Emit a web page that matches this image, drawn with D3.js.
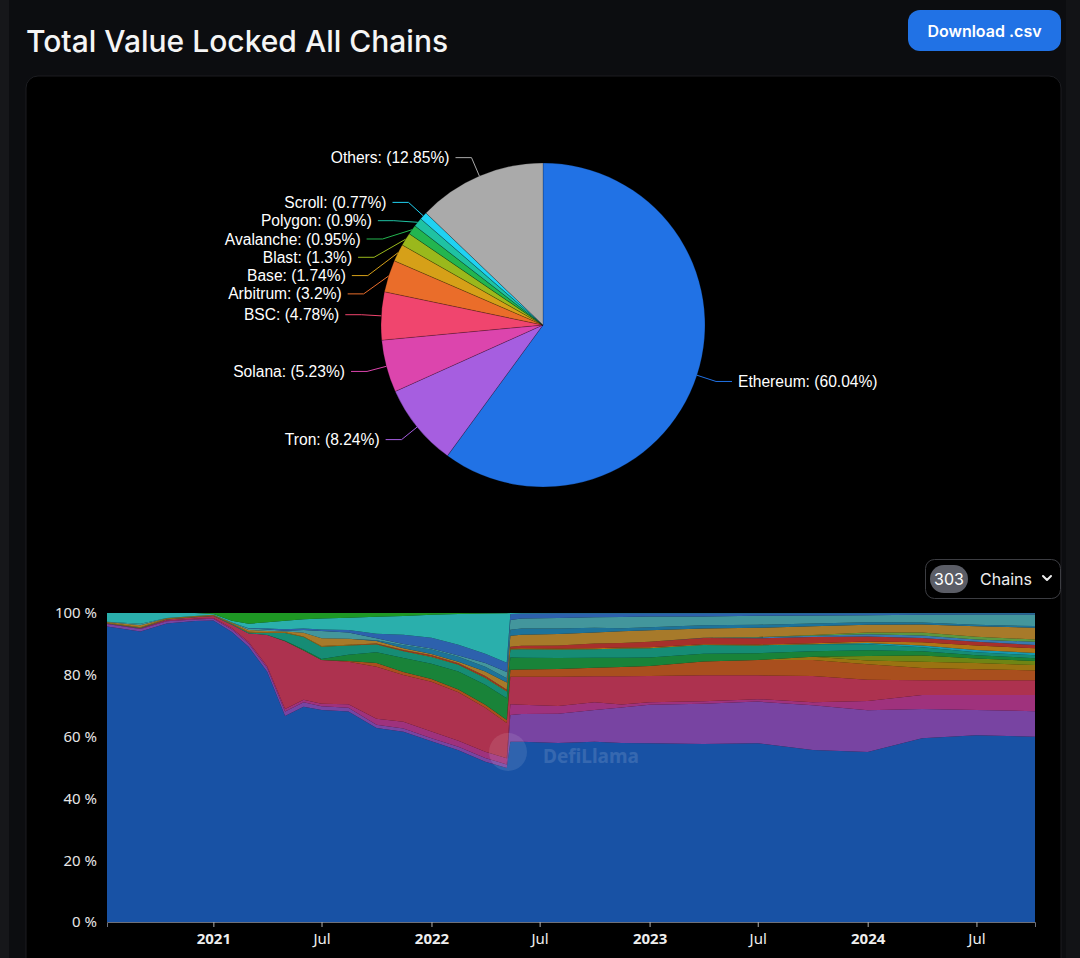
<!DOCTYPE html>
<html>
<head>
<meta charset="utf-8">
<script src="https://cdn.jsdelivr.net/npm/d3@7"></script>
<style>
  body { margin: 0; background: #0c0d10; }
  svg { display: block; }
  text { font-family: "Noto Sans", sans-serif; }
</style>
</head>
<body>
<svg id="page" width="1080" height="958"></svg>
<script>
// ---- pie: share of TVL per chain (%)
var pieNames = ['Ethereum', 'Tron', 'Solana', 'BSC', 'Arbitrum', 'Base', 'Blast', 'Avalanche', 'Polygon', 'Scroll', 'Others'];
var pieShares = [60.04, 8.24, 5.23, 4.78, 3.2, 1.74, 1.3, 0.95, 0.9, 0.77, 12.85];

// ---- stacked area: dominance per chain (%)
var dates = ['2020-07-07','2020-09-01','2020-10-15','2020-12-01','2021-01-01','2021-02-01','2021-03-01','2021-04-01',
             '2021-05-01','2021-06-01','2021-07-01','2021-08-15','2021-10-01','2021-11-15','2022-01-01','2022-02-15',
             '2022-04-01','2022-05-07','2022-05-13','2022-06-01','2022-08-01','2022-10-01','2022-11-15','2023-01-01',
             '2023-04-01','2023-07-01','2023-10-01','2024-01-01','2024-04-01','2024-07-01','2024-10-07'];

var ethereum  = [95.6, 94.0, 96.9, 97.5, 98.0, 94.5, 89.1, 81.0, 67.0, 69.7, 68.6, 68.1, 62.8, 61.6, 58.9, 55.7, 51.9, 49.8, 58.3, 58.3, 57.9, 58.3, 57.9, 57.9, 57.7, 57.9, 55.7, 55.1, 59.5, 60.5, 60.04];
var tron      = [0.8, 0.8, 0.7, 0.5, 0.5, 0.8, 1.0, 1.2, 1.5, 1.4, 1.2, 1.2, 1.0, 1.0, 1.0, 1.1, 1.2, 1.2, 8.7, 9.0, 9.5, 10.3, 11.5, 12.5, 13.0, 13.5, 14.5, 13.5, 9.5, 8.2, 8.24];
var solana    = [0.2, 0.2, 0.3, 0.2, 0.3, 0.4, 0.5, 0.6, 0.8, 0.8, 0.8, 1.2, 2.0, 2.2, 2.2, 2.0, 2.0, 2.0, 3.5, 3.0, 2.5, 2.5, 1.0, 0.8, 0.8, 0.8, 1.0, 3.0, 4.5, 4.8, 5.23];
var bsc       = [0, 0.1, 0.3, 0.5, 0.6, 1.2, 2.8, 10.1, 22.0, 16.0, 14.2, 13.7, 16.8, 15.1, 16.2, 15.7, 14.2, 11.4, 8.9, 9.1, 9.5, 8.4, 9.1, 8.5, 8.4, 7.7, 8.5, 6.9, 4.8, 4.8, 4.78];
var arbitrum  = [0, 0, 0, 0, 0, 0, 0, 0, 0, 0, 0, 0.3, 1.2, 1.0, 0.9, 0.9, 1.0, 1.0, 2.2, 2.3, 2.5, 2.8, 3.0, 3.2, 4.5, 5.0, 5.2, 5.0, 4.0, 3.6, 3.2];
var base      = [0, 0, 0, 0, 0, 0, 0, 0, 0, 0, 0, 0, 0, 0, 0, 0, 0, 0, 0, 0, 0, 0, 0, 0, 0, 0, 1.0, 1.2, 2.0, 2.0, 1.74];
var blast     = [0, 0, 0, 0, 0, 0, 0, 0, 0, 0, 0, 0, 0, 0, 0, 0, 0, 0, 0, 0, 0, 0, 0, 0, 0, 0, 0, 1.5, 2.0, 1.5, 1.3];
var avalanche = [0, 0, 0, 0, 0, 0, 0, 0, 0.2, 0.3, 0.3, 2.0, 3.5, 4.5, 5.0, 5.8, 6.5, 7.0, 4.0, 3.8, 3.5, 3.2, 3.0, 2.8, 2.5, 2.2, 1.8, 1.8, 1.4, 1.0, 0.95];
var polygon   = [0.1, 0.1, 0.1, 0.1, 0.1, 0.2, 0.3, 0.6, 2.5, 4.0, 4.0, 3.0, 2.5, 2.2, 2.2, 2.2, 2.2, 2.2, 2.6, 2.8, 2.8, 2.8, 3.0, 3.0, 2.8, 2.5, 2.2, 2.0, 1.3, 1.0, 0.9];
var scroll    = [0, 0, 0, 0, 0, 0, 0, 0, 0, 0, 0, 0, 0, 0, 0, 0, 0, 0, 0, 0, 0, 0, 0, 0, 0, 0, 0.1, 0.4, 0.6, 0.7, 0.77];
var bitcoin   = [0.2, 0.2, 0.2, 0.2, 0.2, 0.2, 0.2, 0.2, 0.2, 0.2, 0.2, 0.2, 0.2, 0.2, 0.2, 0.2, 0.2, 0.2, 0.3, 0.3, 0.3, 0.3, 0.3, 0.3, 0.3, 0.3, 0.3, 0.5, 1.0, 1.5, 1.5];
var optimism  = [0, 0, 0, 0, 0, 0, 0, 0, 0, 0, 0, 0, 0.1, 0.2, 0.3, 0.3, 0.4, 0.4, 0.6, 0.8, 1.0, 1.5, 1.5, 1.8, 2.0, 2.0, 2.0, 1.6, 1.4, 1.2, 1.1];
var sui       = [0, 0, 0, 0, 0, 0, 0, 0, 0, 0, 0, 0, 0, 0, 0, 0, 0, 0, 0, 0, 0, 0, 0, 0, 0.1, 0.3, 0.4, 0.7, 0.8, 0.7, 1.0];
var mantle    = [0, 0, 0, 0, 0, 0, 0, 0, 0, 0, 0, 0, 0, 0, 0, 0, 0, 0, 0, 0, 0, 0, 0, 0, 0, 0.1, 0.3, 0.6, 1.0, 0.9, 0.8];
var smallA    = [0.2, 0.6, 0.1, 0.1, 0.1, 0.2, 0.6, 0.5, 0.3, 1.2, 2.5, 2.0, 0.8, 0.6, 0.4, 0.5, 1.5, 2.3, 3.5, 3.6, 3.7, 3.6, 3.8, 3.7, 3.0, 3.0, 2.8, 2.5, 2.6, 3.4, 3.8];
var cronos    = [0, 0, 0, 0, 0, 0, 0, 0, 0, 0, 0, 0, 0.3, 1.0, 1.5, 1.6, 1.5, 1.4, 2.0, 2.0, 1.8, 1.5, 1.0, 1.0, 1.0, 1.0, 0.9, 0.8, 0.6, 0.5, 0.5];
var smallB    = [0.1, 0.5, 0.1, 0, 0, 0.1, 0.5, 0.5, 0.2, 0.9, 2.4, 2.0, 0.6, 0.4, 0.3, 0.4, 1.2, 2.0, 3.1, 3.2, 3.4, 3.4, 3.6, 3.5, 2.9, 2.9, 2.6, 2.3, 2.5, 3.3, 3.75];
var fantom    = [0, 0, 0, 0, 0, 0, 0.1, 0.3, 0.5, 0.5, 0.5, 0.8, 1.5, 3.0, 3.5, 3.5, 3.0, 3.0, 2.0, 1.6, 1.5, 1.3, 1.2, 1.0, 1.0, 0.8, 0.7, 0.6, 0.5, 0.4, 0.4];
var terra     = [2.8, 3.5, 1.6, 1.0, 0.3, 0.6, 1.4, 2.0, 2.8, 3.0, 3.5, 4.0, 5.5, 6.0, 7.5, 10.0, 13.0, 16.0, 0.3, 0.2, 0.1, 0.1, 0.1, 0.1, 0.1, 0.1, 0.1, 0.1, 0.1, 0.1, 0.1];
var heco      = [0, 0, 0, 0, 0.3, 2.5, 3.5, 3.0, 2.5, 2.0, 1.8, 1.5, 1.2, 1.0, 0.6, 0.3, 0.2, 0.1, 0, 0, 0, 0, 0, 0, 0, 0, 0, 0, 0, 0, 0];

var yTicks = [0, 0.2, 0.4, 0.6, 0.8, 1];
var xTicks = ['2021-01-01','2021-07-01','2022-01-01','2022-07-01','2023-01-01','2023-07-01','2024-01-01','2024-07-01'];

(function () {
    'use strict';

    var svg = d3.select('#page');
    var parseDate = d3.timeParse('%Y-%m-%d');

    // bottom -> top order of the stack
    var stackSeries = [
        ['Ethereum', ethereum], ['Tron', tron], ['Solana', solana], ['BSC', bsc],
        ['Arbitrum', arbitrum], ['Base', base], ['Blast', blast], ['Avalanche', avalanche],
        ['Polygon', polygon], ['Scroll', scroll], ['Bitcoin', bitcoin], ['Optimism', optimism],
        ['Sui', sui], ['Mantle', mantle], ['SmallA', smallA], ['Cronos', cronos],
        ['SmallB', smallB], ['Fantom', fantom], ['Terra', terra], ['Heco', heco]
    ];

    var colors = {
        Ethereum: '#2172e5', Tron: '#a65ee0', Solana: '#dc45ad', BSC: '#f0456e',
        Arbitrum: '#ea6d2a', Base: '#d6a018', Blast: '#9ab81c', Avalanche: '#23b54f',
        Polygon: '#1fc2a2', Scroll: '#20d2f2', Others: '#aaaaaa', Bitcoin: '#f3a21f',
        Optimism: '#e8433c', Sui: '#4fa8f2', Mantle: '#7fd35a', SmallA: '#e8a93a',
        Cronos: '#2a9fd6', SmallB: '#5dd0d8', Fantom: '#3e86f0', Terra: '#3af2ee', Heco: '#2ad332'
    };

    // ---------- page chrome
    svg.append('rect').attr('x', 0).attr('y', 0).attr('width', 9).attr('height', 958).attr('fill', '#16171a');
    svg.append('rect').attr('x', 1066).attr('y', 0).attr('width', 14).attr('height', 958).attr('fill', '#121316');

    svg.append('text')
        .attr('x', 26).attr('y', 52)
        .style('font-family', 'Inter, sans-serif')
        .style('font-size', '30px')
        .style('font-weight', 500)
        .attr('fill', '#f5f5f5')
        .text('Total Value Locked All Chains');

    svg.append('rect')
        .attr('x', 908).attr('y', 10).attr('width', 153).attr('height', 41).attr('rx', 12)
        .attr('fill', '#2172e5');
    svg.append('text')
        .attr('x', 984.5).attr('y', 31)
        .attr('text-anchor', 'middle').attr('dominant-baseline', 'central')
        .style('font-family', 'Inter, sans-serif')
        .style('font-size', '16px').style('font-weight', 600)
        .attr('fill', '#ffffff')
        .text('Download .csv');

    svg.append('rect')
        .attr('x', 26).attr('y', 76).attr('width', 1035).attr('height', 920).attr('rx', 12)
        .attr('fill', '#000000').attr('stroke', '#1c1d21');

    // ---------- pie
    var cx = 543, cy = 325, outerR = 162;
    var len1 = 20, len2 = 16, gap = 6, minGap = 18.3;

    var pieData = pieNames.map(function (n, i) { return {name: n, value: pieShares[i]}; });
    var arcs = d3.pie().value(d => d.value).sort(null)(pieData);
    var arc = d3.arc().innerRadius(0).outerRadius(outerR);

    var pieG = svg.append('g').attr('transform', `translate(${cx},${cy})`);

    pieG.selectAll('path.slice')
        .data(arcs)
        .enter()
        .append('path')
        .attr('class', 'slice')
        .attr('d', arc)
        .attr('fill', d => colors[d.data.name])
        .attr('stroke', 'rgba(0,0,0,0.35)')
        .attr('stroke-width', 0.6);

    // label positions: push overlapping labels apart on each side
    arcs.forEach(a => {
        a.mid = (a.startAngle + a.endAngle) / 2;
        a.side = Math.sin(a.mid) >= 0 ? 1 : -1;
        a.ly = -Math.cos(a.mid) * (outerR + len1);
    });
    [1, -1].forEach(side => {
        var list = arcs.filter(a => a.side === side).sort((p, q) => p.ly - q.ly);
        for (var i = 1; i < list.length; i++) {
            if (list[i].ly < list[i - 1].ly + minGap) list[i].ly = list[i - 1].ly + minGap;
        }
    });
    arcs.forEach(a => {
        var R = outerR + len1;
        var dy = Math.max(-R, Math.min(R, a.ly));
        a.bx = a.side * Math.sqrt(R * R - dy * dy);
        a.ex = a.bx + a.side * len2;
    });

    pieG.selectAll('polyline.leader')
        .data(arcs)
        .enter()
        .append('polyline')
        .attr('class', 'leader')
        .attr('points', d => [
            [Math.sin(d.mid) * outerR, -Math.cos(d.mid) * outerR],
            [d.bx, d.ly],
            [d.ex, d.ly]
        ].join(' '))
        .attr('fill', 'none')
        .attr('stroke', d => colors[d.data.name])
        .attr('stroke-width', 1);

    pieG.selectAll('text.pieLabel')
        .data(arcs)
        .enter()
        .append('text')
        .attr('class', 'pieLabel')
        .attr('x', d => d.ex + d.side * gap)
        .attr('y', d => d.ly)
        .attr('dominant-baseline', 'central')
        .attr('text-anchor', d => d.side > 0 ? 'start' : 'end')
        .style('font-family', '"Liberation Sans", Arial, sans-serif')
        .style('font-size', '15.6px')
        .attr('fill', '#ffffff')
        .text(d => `${d.data.name}: (${d.data.value}%)`);

    // ---------- chains selector
    svg.append('rect')
        .attr('x', 925.5).attr('y', 559.5).attr('width', 135).attr('height', 39).attr('rx', 9)
        .attr('fill', '#000').attr('stroke', '#3c3d42');
    svg.append('rect')
        .attr('x', 930).attr('y', 565).attr('width', 38).attr('height', 28).attr('rx', 14)
        .attr('fill', '#5b5d66');
    svg.append('text')
        .attr('x', 949).attr('y', 579).attr('text-anchor', 'middle').attr('dominant-baseline', 'central')
        .style('font-family', 'Inter, sans-serif').style('font-size', '16px')
        .attr('fill', '#ffffff').text('303');
    svg.append('text')
        .attr('x', 980).attr('y', 579).attr('dominant-baseline', 'central')
        .style('font-family', 'Inter, sans-serif').style('font-size', '16px')
        .attr('fill', '#eeeeee').text('Chains');
    svg.append('path')
        .attr('d', 'M1043,576 l4,4 l4,-4')
        .attr('fill', 'none').attr('stroke', '#eeeeee').attr('stroke-width', 2)
        .attr('stroke-linecap', 'round').attr('stroke-linejoin', 'round');

    // ---------- stacked dominance chart
    var margin = {left: 107, right: 1035, top: 613, bottom: 922};

    var keys = stackSeries.map(s => s[0]);
    var table = dates.map(function (d, i) {
        var row = {date: parseDate(d)};
        stackSeries.forEach(s => { row[s[0]] = s[1][i]; });
        return row;
    });

    var layers = d3.stack().keys(keys).offset(d3.stackOffsetExpand)(table);

    var x = d3.scaleTime()
        .domain([parseDate(dates[0]), parseDate(dates[dates.length - 1])])
        .range([margin.left, margin.right]);

    var y = d3.scaleLinear()
        .domain([0, 1])
        .range([margin.bottom, margin.top]);

    var area = d3.area()
        .x(d => x(d.data.date))
        .y0(d => y(d[0]))
        .y1(d => y(d[1]));

    svg.append('g')
        .selectAll('path.layer')
        .data(layers)
        .enter()
        .append('path')
        .attr('class', 'layer')
        .attr('d', area)
        .attr('fill', d => colors[d.key])
        .attr('fill-opacity', 0.72);

    // watermark
    svg.append('circle').attr('cx', 508).attr('cy', 752).attr('r', 19)
        .attr('fill', '#ffffff').attr('opacity', 0.1);
    svg.append('text')
        .attr('x', 543).attr('y', 763)
        .style('font-size', '19px').style('font-weight', 700)
        .attr('fill', '#ffffff').attr('opacity', 0.13)
        .text('DefiLlama');

    var yAxis = d3.axisLeft(y)
        .tickValues(yTicks)
        .tickSize(0)
        .tickPadding(10)
        .tickFormat(d => Math.round(d * 100) + ' %');

    var yG = svg.append('g')
        .attr('transform', `translate(${margin.left},0)`)
        .call(yAxis);
    yG.select('.domain').remove();
    yG.selectAll('text')
        .style('font-family', '"Noto Sans", sans-serif')
        .style('font-size', '15px')
        .attr('fill', '#e6e6e6');

    var xAxis = d3.axisBottom(x)
        .tickValues(xTicks.map(parseDate))
        .tickSize(5)
        .tickPadding(6)
        .tickFormat(d => d.getMonth() === 0 ? d3.timeFormat('%Y')(d) : d3.timeFormat('%b')(d));

    var xG = svg.append('g')
        .attr('transform', `translate(0,${margin.bottom})`)
        .call(xAxis);
    xG.select('.domain').attr('stroke', '#6e7079');
    xG.selectAll('.tick line').attr('stroke', '#b0b0b0');
    xG.selectAll('.tick text')
        .style('font-family', '"Noto Sans", sans-serif')
        .style('font-size', '15px')
        .style('font-weight', d => d.getMonth() === 0 ? 700 : 400)
        .attr('fill', '#eeeeee');
}());
</script>
</body>
</html>
